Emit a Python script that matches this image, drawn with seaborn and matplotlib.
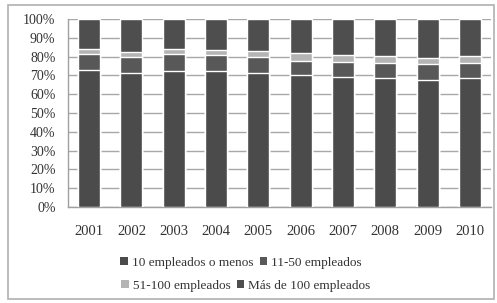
import pandas as pd
import numpy as np
import matplotlib
matplotlib.use("Agg")
import matplotlib.pyplot as plt
from matplotlib.patches import Rectangle, Patch
import seaborn as sns

years = ["2001", "2002", "2003", "2004", "2005", "2006", "2007", "2008", "2009", "2010"]
menos10 = [72.9, 71.1, 72.3, 72.3, 71.4, 70.2, 69.3, 68.4, 67.6, 68.4]
de11a50 = [8.3, 8.5, 8.9, 8.6, 8.2, 7.6, 8.0, 8.4, 8.5, 8.0]
de51a100 = [2.7, 3.0, 2.7, 2.6, 3.5, 3.9, 3.6, 3.5, 3.0, 3.9]
mas100 = [100 - a - b - c for a, b, c in zip(menos10, de11a50, de51a100)]

labels = ["10 empleados o menos", "11-50 empleados", "51-100 empleados", "Más de 100 empleados"]
colors = ["#4b4b4b", "#585858", "#b4b4b4", "#4e4e4e"]

df = pd.DataFrame({"year": years, labels[0]: menos10, labels[1]: de11a50,
                   labels[2]: de51a100, labels[3]: mas100})
cum = df[labels].cumsum(axis=1)

sns.set_style("white")
plt.rcParams["font.family"] = ["Liberation Serif", "DejaVu Serif"]

fig = plt.figure(figsize=(4.97, 3.03), dpi=100)
ax = fig.add_axes([68 / 497, 1 - 207 / 303, (491 - 68) / 497, (207 - 19) / 303])

# stacked bars: draw cumulative totals from the top segment down
for lab, col in reversed(list(zip(labels, colors))):
    sns.barplot(x=df["year"], y=cum[lab], color=col, width=0.52,
                edgecolor="white", linewidth=1.0, saturation=1, ax=ax, zorder=3)

ax.set_ylim(0, 100)
ax.set_xlim(-0.5, 9.5)
ax.set_yticks(np.arange(0, 101, 10))
ax.set_yticklabels([f"{v}%" for v in range(0, 101, 10)])
ax.yaxis.grid(True, color="#a8a8a8", linewidth=1.0, zorder=0)
ax.set_axisbelow(True)
ax.set_xlabel("")
ax.set_ylabel("")
ax.tick_params(axis="y", labelsize=10, length=0, pad=9, colors="#333333")
ax.tick_params(axis="x", labelsize=10.5, length=0, pad=13, colors="#333333")
for s in ["top", "right"]:
    ax.spines[s].set_visible(False)
for s in ["left", "bottom"]:
    ax.spines[s].set_color("#a0a0a0")
    ax.spines[s].set_linewidth(1.0)

# legend laid out in two flowing rows, as in the original
rows = [([0, 1], 241, 263), ([2, 3], 246, 286)]
for idx, xc, yc in rows:
    handles = [Patch(facecolor=colors[i], edgecolor="none") for i in idx]
    leg = fig.legend(handles, [labels[i] for i in idx], ncol=2, loc="center",
                     bbox_to_anchor=(xc / 497, 1 - yc / 303), frameon=False, fontsize=9.5,
                     handlelength=0.55, handleheight=0.55, handletextpad=0.3,
                     columnspacing=0.5, labelcolor="#333333", borderpad=0)

fig.patches.append(Rectangle((8 / 497, 4 / 303), 486 / 497, 294 / 303, transform=fig.transFigure,
                             fill=False, edgecolor="#b0b0b0", linewidth=1.2))

fig.savefig("out.png", dpi=100)
